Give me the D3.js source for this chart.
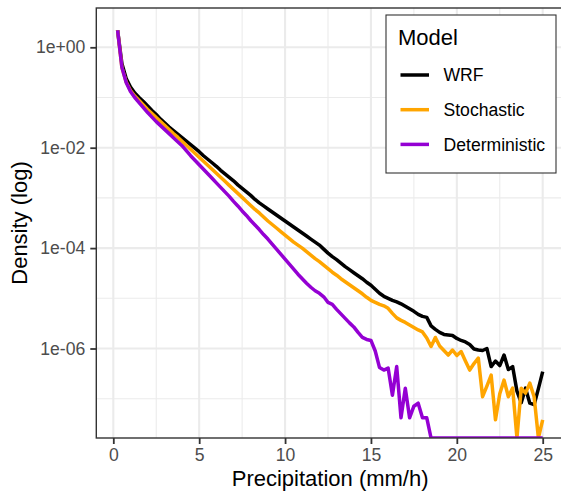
<!DOCTYPE html>
<html>
<head>
<meta charset="utf-8">
<script src="https://cdn.jsdelivr.net/npm/d3@7"></script>
<style>
  body { margin: 0; background: #fff; }
  text { font-family: "Liberation Sans", Arial, Helvetica, sans-serif; }
</style>
</head>
<body>
<div id="chart"></div>
<script>
// bin centres (mm/h)
const precip = d3.range(0.25, 25.001, 0.25);

// log10 density per bin (null = zero density)
const wrfLog = [
  0.34, -0.32, -0.62, -0.79, -0.91, -1.00, -1.08, -1.17, -1.26, -1.34,
  -1.43, -1.51, -1.59, -1.66, -1.73, -1.80, -1.87, -1.94, -2.01, -2.08,
  -2.16, -2.23, -2.30, -2.37, -2.45, -2.52, -2.59, -2.66, -2.74, -2.81,
  -2.88, -2.95, -3.03, -3.10, -3.16, -3.22, -3.28, -3.34, -3.40, -3.46,
  -3.52, -3.58, -3.64, -3.70, -3.76, -3.82, -3.88, -3.94, -4.02, -4.10,
  -4.17, -4.23, -4.30, -4.37, -4.43, -4.49, -4.55, -4.61, -4.68, -4.74,
  -4.82, -4.90, -4.96, -5.00, -5.04, -5.07, -5.11, -5.16, -5.21, -5.26,
  -5.32, -5.36, -5.38, -5.55, -5.62, -5.68, -5.72, -5.73, -5.74, -5.80,
  -5.84, -5.87, -5.92, -6.01, -6.03, -6.04, -6.00, -6.36, -6.25, -6.34,
  -6.13, -6.42, -6.36, -6.85, -7.08, -6.79, -7.09, -7.12, -6.80, -6.46
];
const stochLog = [
  0.34, -0.40, -0.69, -0.86, -0.97, -1.06, -1.15, -1.24, -1.32, -1.40,
  -1.48, -1.56, -1.64, -1.72, -1.79, -1.87, -1.95, -2.03, -2.11, -2.19,
  -2.27, -2.35, -2.43, -2.51, -2.59, -2.67, -2.75, -2.83, -2.91, -2.99,
  -3.07, -3.15, -3.23, -3.30, -3.38, -3.46, -3.53, -3.60, -3.67, -3.74,
  -3.81, -3.88, -3.94, -4.00, -4.07, -4.14, -4.21, -4.27, -4.34, -4.41,
  -4.48, -4.54, -4.61, -4.67, -4.73, -4.79, -4.85, -4.91, -4.98, -5.04,
  -5.08, -5.12, -5.15, -5.20, -5.30, -5.39, -5.44, -5.48, -5.53, -5.58,
  -5.63, -5.67, -5.79, -5.96, -5.78, -5.95, -6.04, -6.13, -6.03, -6.14,
  -6.06, -6.25, -6.43, -6.30, -6.19, -6.96, -6.75, -6.53, -7.42, -6.90,
  -6.63, -6.96, -6.79, null, -6.79, -6.89, -6.69, -6.96, null, -7.42
];
const detLog = [
  0.34, -0.40, -0.70, -0.88, -1.00, -1.10, -1.20, -1.30, -1.39, -1.48,
  -1.56, -1.64, -1.72, -1.80, -1.88, -1.96, -2.06, -2.16, -2.25, -2.34,
  -2.43, -2.52, -2.61, -2.70, -2.79, -2.88, -2.97, -3.07, -3.16, -3.26,
  -3.35, -3.45, -3.54, -3.63, -3.73, -3.82, -3.92, -4.02, -4.12, -4.22,
  -4.32, -4.42, -4.52, -4.61, -4.70, -4.78, -4.85, -4.90, -4.97, -5.08,
  -5.12, -5.22, -5.31, -5.40, -5.49, -5.57, -5.68, -5.78, -5.82, -5.84,
  -6.05, -6.38, -6.43, -6.39, -6.93, -6.36, -7.38, -6.79, -7.38, -7.15,
  -7.09, -7.38, -7.38, null, null, null, null, null, null, null,
  null, null, null, null, null, null, null, null, null, null,
  null, null, null, null, null, null, null, null, null, null
];

const models = ['WRF', 'Stochastic', 'Deterministic'];
const colors = ['#000000', '#FFA500', '#9400D3'];
const xTicks = [0, 5, 10, 15, 20, 25];
const xMinor = [2.5, 7.5, 12.5, 17.5, 22.5];
const yTicks = [1e0, 1e-2, 1e-4, 1e-6];
const yTickLabels = ['1e+00', '1e-02', '1e-04', '1e-06'];
const yMinor = [1e-1, 1e-3, 1e-5, 1e-7];

const W = 561, H = 496;
const panel = {left: 96.3, right: 564, top: 8, bottom: 438};

const x = d3.scaleLinear().domain([-0.99, 26.24]).range([panel.left, panel.right]);
const y = d3.scaleLog().domain([Math.pow(10, -7.783), Math.pow(10, 0.783)])
  .range([panel.bottom, panel.top]).clamp(true);

const svg = d3.select('#chart').append('svg')
  .attr('width', W).attr('height', H);

svg.append('defs').append('clipPath').attr('id', 'panelClip')
  .append('rect')
  .attr('x', panel.left).attr('y', panel.top)
  .attr('width', panel.right - panel.left).attr('height', panel.bottom - panel.top);

const grid = svg.append('g');
// minor grid
grid.selectAll('.vminor').data(xMinor).join('line')
  .attr('x1', d => x(d)).attr('x2', d => x(d))
  .attr('y1', panel.top).attr('y2', panel.bottom)
  .attr('stroke', '#EBEBEB').attr('stroke-width', 1.07);
grid.selectAll('.hminor').data(yMinor).join('line')
  .attr('y1', d => y(d)).attr('y2', d => y(d))
  .attr('x1', panel.left).attr('x2', panel.right)
  .attr('stroke', '#EBEBEB').attr('stroke-width', 1.07);
// major grid
grid.selectAll('.vmajor').data(xTicks).join('line')
  .attr('x1', d => x(d)).attr('x2', d => x(d))
  .attr('y1', panel.top).attr('y2', panel.bottom)
  .attr('stroke', '#EBEBEB').attr('stroke-width', 2.1);
grid.selectAll('.hmajor').data(yTicks).join('line')
  .attr('y1', d => y(d)).attr('y2', d => y(d))
  .attr('x1', panel.left).attr('x2', panel.right)
  .attr('stroke', '#EBEBEB').attr('stroke-width', 2.1);

// series
const series = [wrfLog, stochLog, detLog].map((vals, i) => ({
  name: models[i],
  color: colors[i],
  values: precip.map((p, j) => [p, vals[j] == null ? 0 : Math.pow(10, vals[j])])
}));

const line = d3.line()
  .x(d => x(d[0]))
  .y(d => d[1] > 0 ? y(d[1]) : y(y.domain()[0]));

const plotArea = svg.append('g').attr('clip-path', 'url(#panelClip)');
plotArea.selectAll('path').data(series).join('path')
  .attr('d', d => line(d.values))
  .attr('fill', 'none')
  .attr('stroke', d => d.color)
  .attr('stroke-width', 3.5)
  .attr('stroke-linejoin', 'round');

// panel border
svg.append('rect')
  .attr('x', panel.left).attr('y', panel.top)
  .attr('width', panel.right - panel.left).attr('height', panel.bottom - panel.top)
  .attr('fill', 'none').attr('stroke', '#333333').attr('stroke-width', 1.4);

// axes
const xAxis = d3.axisBottom(x).tickValues(xTicks).tickSize(6).tickPadding(5);
const gx = svg.append('g').attr('transform', 'translate(0,' + panel.bottom + ')').call(xAxis);
const yAxis = d3.axisLeft(y).tickValues(yTicks).tickSize(6).tickPadding(5)
  .tickFormat((d, i) => yTickLabels[i]);
const gy = svg.append('g').attr('transform', 'translate(' + panel.left + ',0)').call(yAxis);

[gx, gy].forEach(g => {
  g.select('.domain').remove();
  g.selectAll('.tick line').attr('stroke', '#333333').attr('stroke-width', 1.8);
  g.selectAll('.tick text')
    .attr('fill', '#4D4D4D')
    .style('font-size', '17.6px')
    .style('font-family', '"Liberation Sans", Arial, sans-serif');
});

// axis titles
svg.append('text')
  .attr('x', (panel.left + panel.right) / 2).attr('y', 486)
  .attr('text-anchor', 'middle')
  .style('font-size', '22px')
  .text('Precipitation (mm/h)');

svg.append('text')
  .attr('transform', 'translate(27,' + ((panel.top + panel.bottom) / 2) + ') rotate(-90)')
  .attr('text-anchor', 'middle')
  .style('font-size', '22px')
  .text('Density (log)');

// legend
const legend = svg.append('g');
legend.append('rect')
  .attr('x', 386).attr('y', 15).attr('width', 170).attr('height', 158)
  .attr('fill', '#fff').attr('stroke', '#333333').attr('stroke-width', 1.1);
legend.append('text')
  .attr('x', 398).attr('y', 44.5)
  .style('font-size', '22px')
  .text('Model');
const keys = legend.selectAll('.key').data(series).join('g')
  .attr('transform', (d, i) => 'translate(0,' + (75 + i * 34.7) + ')');
keys.append('line')
  .attr('x1', 400.5).attr('x2', 429)
  .attr('stroke', d => d.color).attr('stroke-width', 3.5);
keys.append('text')
  .attr('x', 443.5).attr('dy', '0.35em')
  .style('font-size', '17.6px')
  .text(d => d.name);
</script>
</body>
</html>
